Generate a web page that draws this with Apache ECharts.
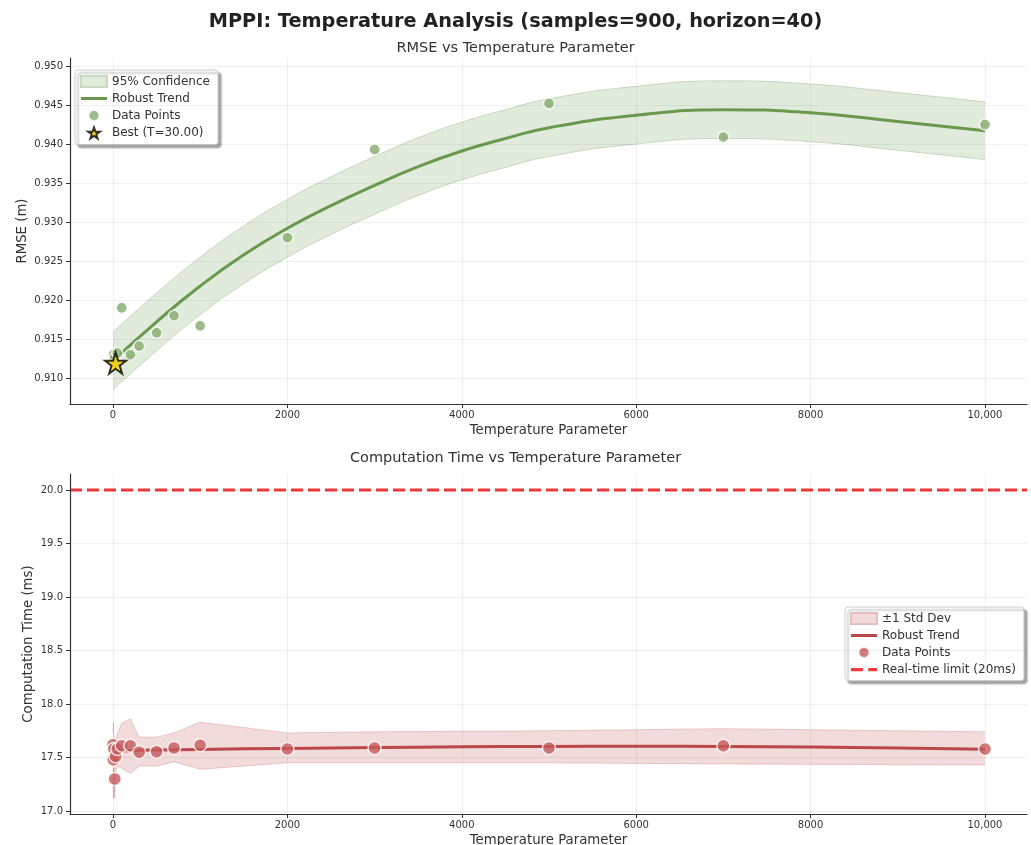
<!DOCTYPE html>
<html><head><meta charset="utf-8">
<script src="https://cdn.jsdelivr.net/npm/echarts@6/dist/echarts.min.js"></script>
<style>html,body{margin:0;padding:0;background:#fff}#c{width:1031px;height:845px}</style>
</head><body><div id="c"></div>
<script>
// ---------- data ----------
const temps = [1, 5, 10, 20, 30, 50, 100, 200, 300, 500, 700, 1000, 2000, 3000, 5000, 7000, 10000];
const rmse  = [0.9128, 0.9131, 0.9130, 0.9126, 0.9119, 0.9132, 0.9190, 0.9130, 0.9141, 0.9158, 0.9180, 0.9167, 0.9280, 0.9393, 0.9452, 0.9409, 0.9425];
const ctime = [17.62, 17.48, 17.58, 17.30, 17.51, 17.58, 17.61, 17.61, 17.55, 17.555, 17.59, 17.615, 17.58, 17.59, 17.59, 17.61, 17.58];
const ctimeLow  = [17.50, 17.12, 17.40, 17.12, 17.38, 17.42, 17.40, 17.35, 17.42, 17.42, 17.46, 17.39, 17.45, 17.45, 17.45, 17.44, 17.43];
const ctimeHigh = [17.74, 17.83, 17.70, 17.48, 17.64, 17.72, 17.82, 17.86, 17.69, 17.69, 17.73, 17.83, 17.73, 17.74, 17.75, 17.77, 17.74];

const trendT = [1, 500, 1000, 1500, 2000, 2500, 3000, 3500, 4000, 4500, 5000, 6000, 7000, 8000, 9000, 10000];
const rmseTrend  = [0.9122, 0.9172, 0.9218, 0.9258, 0.9292, 0.9321, 0.9347, 0.9371, 0.9391, 0.9407, 0.9421, 0.9437, 0.9444, 0.9440, 0.9429, 0.9417];
const rmseCiHigh = [0.9159, 0.9209, 0.9255, 0.9295, 0.9329, 0.9358, 0.9384, 0.9408, 0.9428, 0.9444, 0.9458, 0.9474, 0.9481, 0.9477, 0.9466, 0.9454];
const rmseCiLow  = [0.9085, 0.9135, 0.9181, 0.9221, 0.9255, 0.9284, 0.9310, 0.9334, 0.9354, 0.9370, 0.9384, 0.9400, 0.9407, 0.9403, 0.9392, 0.9380];

const ctTrendT = [1, 250, 500, 1000, 2000, 3000, 4000, 5000, 6000, 7000, 8000, 9000, 10000];
const ctTrend  = [17.555, 17.565, 17.570, 17.576, 17.585, 17.593, 17.600, 17.604, 17.606, 17.604, 17.598, 17.590, 17.578];

const bestT = 30, bestRmse = 0.9119;
const limitMs = 20.0;

const xTicks = [0, 2000, 4000, 6000, 8000, 10000];
const xTickLabels = ['0', '2000', '4000', '6000', '8000', '10,000'];
const yTicksTop = [0.910, 0.915, 0.920, 0.925, 0.930, 0.935, 0.940, 0.945, 0.950];
const yTicksBot = [17.0, 17.5, 18.0, 18.5, 19.0, 19.5, 20.0];

// ---------- helpers ----------
const zip = (a, b) => a.map((v, i) => [v, b[i]]);
const FONT = 'DejaVu Sans';
const GREEN = '#6a994e', RED = '#bc4749', LIMIT = '#f03b3b';
const X_MIN = -493, X_MAX = 10482;
const STAR = 'path://M50,2 L61.8,36.2 L97.6,36.2 L68.6,57.4 L79.4,92 L50,71 L20.6,92 L31.4,57.4 L2.4,36.2 L38.2,36.2 Z';
const LINE_ICON = 'path://M0,0 H26 V3 H0 Z';
const DASH_ICON = 'path://M0,0 H11 V3 H0 Z M16,0 H24 V3 H16 Z';
const NO_SPLIT = { show: false };

function xAxis(gi) {
  return {
    type: 'value', gridIndex: gi, min: X_MIN, max: X_MAX, z: 10,
    name: 'Temperature Parameter', nameLocation: 'middle', nameGap: 20, nameMoveOverlap: false,
    nameTextStyle: { fontFamily: FONT, fontSize: 13.3, color: '#333' },
    axisLine: { show: true, onZero: false, lineStyle: { color: '#333', width: 1.2 } },
    axisTick: { show: true, length: 4, customValues: xTicks, lineStyle: { color: '#333' } },
    axisLabel: { customValues: xTicks, margin: 6, fontFamily: FONT, fontSize: 10, color: '#333',
      formatter: v => { const i = xTicks.indexOf(v); return i >= 0 ? xTickLabels[i] : ''; } },
    splitLine: NO_SPLIT
  };
}
function yAxis(gi, min, max, ticks, dec, name, gap) {
  return {
    type: 'value', gridIndex: gi, min: min, max: max, z: 10,
    name: name, nameLocation: 'middle', nameGap: gap, nameRotate: 90, nameMoveOverlap: false,
    nameTextStyle: { fontFamily: FONT, fontSize: 13.3, color: '#333' },
    axisLine: { show: true, onZero: false, lineStyle: { color: '#333', width: 1.2 } },
    axisTick: { show: true, length: 4, customValues: ticks, lineStyle: { color: '#333' } },
    axisLabel: { customValues: ticks, margin: 7, fontFamily: FONT, fontSize: 10, color: '#333',
      formatter: v => v.toFixed(dec) },
    splitLine: NO_SPLIT
  };
}
function gridSeries(gi, yt) {
  return { name: 'grid' + gi, type: 'line', xAxisIndex: gi, yAxisIndex: gi, data: [], z: 3, silent: true,
    markLine: {
      silent: true, symbol: 'none', label: { show: false }, animation: false, precision: 6,
      lineStyle: { color: 'rgba(0,0,0,0.06)', width: 1, type: 'solid' },
      data: xTicks.map(v => ({ xAxis: v })).concat(yt.map(v => ({ yAxis: v })))
    } };
}
const legendBox = {
  orient: 'vertical', backgroundColor: '#fff', borderColor: '#cfcfcf', borderWidth: 1, borderRadius: 3,
  padding: [5, 8, 5, 5], itemGap: 4.5, itemWidth: 26, itemHeight: 11,
  shadowColor: 'rgba(0,0,0,0.35)', shadowBlur: 2, shadowOffsetX: 3, shadowOffsetY: 3,
  textStyle: { fontFamily: FONT, fontSize: 12, color: '#333' }
};

const option = {
  animation: false,
  backgroundColor: '#fff',
  title: [
    { text: 'MPPI: Temperature Analysis (samples=900, horizon=40)', left: 'center', top: 7,
      textStyle: { fontFamily: FONT, fontSize: 19.3, fontWeight: 'bold', color: '#222' } },
    { text: 'RMSE vs Temperature Parameter', left: 'center', top: 36,
      textStyle: { fontFamily: FONT, fontSize: 14.5, fontWeight: 'normal', color: '#333' } },
    { text: 'Computation Time vs Temperature Parameter', left: 'center', top: 446,
      textStyle: { fontFamily: FONT, fontSize: 14.5, fontWeight: 'normal', color: '#333' } }
  ],
  grid: [
    { left: 70, right: 4, top: 58, height: 346, outerBoundsMode: 'none' },
    { left: 70, right: 4, top: 474, height: 340, outerBoundsMode: 'none' }
  ],
  xAxis: [xAxis(0), xAxis(1)],
  yAxis: [
    yAxis(0, 0.90667, 0.95103, yTicksTop, 3, 'RMSE (m)', 41),
    yAxis(1, 16.972, 20.15, yTicksBot, 1, 'Computation Time (ms)', 35)
  ],
  legend: [
    Object.assign({}, legendBox, { left: 75, top: 70,
      data: [
        { name: '95% Confidence', icon: 'rect' },
        { name: 'Robust Trend', icon: LINE_ICON },
        { name: 'Data Points', icon: 'circle' },
        { name: 'Best (T=30.00)', icon: STAR }
      ] }),
    Object.assign({}, legendBox, { left: 845, top: 607,
      data: [
        { name: '±1 Std Dev', icon: 'rect' },
        { name: 'Robust Trend ', icon: LINE_ICON },
        { name: 'Data Points ', icon: 'circle' },
        { name: 'Real-time limit (20ms)', icon: DASH_ICON }
      ] })
  ],
  series: [
    // ---- top chart: confidence band (upper filled, lower masked) ----
    { name: '95% Confidence', type: 'line', xAxisIndex: 0, yAxisIndex: 0, smooth: true,
      symbol: 'none', z: 1, data: zip(trendT, rmseCiHigh),
      itemStyle: { color: '#e1ebdc', borderColor: '#c9dabf', borderWidth: 1 },
      lineStyle: { width: 1, color: 'rgba(106,153,78,0.3)' },
      areaStyle: { color: '#e1ebdc', opacity: 1, origin: 'start' } },
    { name: 'ciLow', type: 'line', xAxisIndex: 0, yAxisIndex: 0, smooth: true,
      symbol: 'none', z: 2, data: zip(trendT, rmseCiLow),
      lineStyle: { width: 1, color: 'rgba(106,153,78,0.3)' },
      areaStyle: { color: '#ffffff', opacity: 1, origin: 'start' } },
    gridSeries(0, yTicksTop),
    { name: 'Robust Trend', type: 'line', xAxisIndex: 0, yAxisIndex: 0, smooth: true,
      symbol: 'none', z: 4, data: zip(trendT, rmseTrend),
      itemStyle: { color: GREEN }, lineStyle: { width: 3, color: GREEN } },
    { name: 'Data Points', type: 'scatter', xAxisIndex: 0, yAxisIndex: 0, z: 5,
      symbol: 'circle', symbolSize: 11, data: zip(temps, rmse),
      itemStyle: { color: '#85aa6d', borderColor: '#fff', borderWidth: 1.5 } },
    { name: 'Best (T=30.00)', type: 'scatter', xAxisIndex: 0, yAxisIndex: 0, z: 6,
      symbol: STAR, symbolSize: 21, data: [[bestT, bestRmse]],
      itemStyle: { color: '#ffd700', borderColor: '#000', borderWidth: 2 } },
    // ---- bottom chart ----
    { name: '±1 Std Dev', type: 'line', xAxisIndex: 1, yAxisIndex: 1,
      symbol: 'none', z: 1, data: zip(temps, ctimeHigh),
      itemStyle: { color: '#f2dbdb', borderColor: '#e6bcbc', borderWidth: 1 },
      lineStyle: { width: 1, color: 'rgba(188,71,73,0.25)' },
      areaStyle: { color: '#f2dbdb', opacity: 1, origin: 'start' } },
    { name: 'ctLow', type: 'line', xAxisIndex: 1, yAxisIndex: 1,
      symbol: 'none', z: 2, data: zip(temps, ctimeLow),
      lineStyle: { width: 1, color: 'rgba(188,71,73,0.25)' },
      areaStyle: { color: '#ffffff', opacity: 1, origin: 'start' } },
    gridSeries(1, yTicksBot),
    { name: 'Robust Trend ', type: 'line', xAxisIndex: 1, yAxisIndex: 1, smooth: true,
      symbol: 'none', z: 4, data: zip(ctTrendT, ctTrend),
      itemStyle: { color: RED }, lineStyle: { width: 3, color: RED } },
    { name: 'Data Points ', type: 'scatter', xAxisIndex: 1, yAxisIndex: 1, z: 5,
      symbol: 'circle', symbolSize: 13, data: zip(temps, ctime),
      itemStyle: { color: '#c65a5c', borderColor: '#fff', borderWidth: 1.5 } },
    { name: 'Real-time limit (20ms)', type: 'line', xAxisIndex: 1, yAxisIndex: 1, z: 4,
      symbol: 'none', data: [[X_MIN, limitMs], [X_MAX, limitMs]],
      itemStyle: { color: LIMIT }, lineStyle: { width: 3, color: LIMIT, type: [12, 5] } }
  ]
};
const chart = echarts.init(document.getElementById('c'));
chart.setOption(option);
</script>
</body></html>
